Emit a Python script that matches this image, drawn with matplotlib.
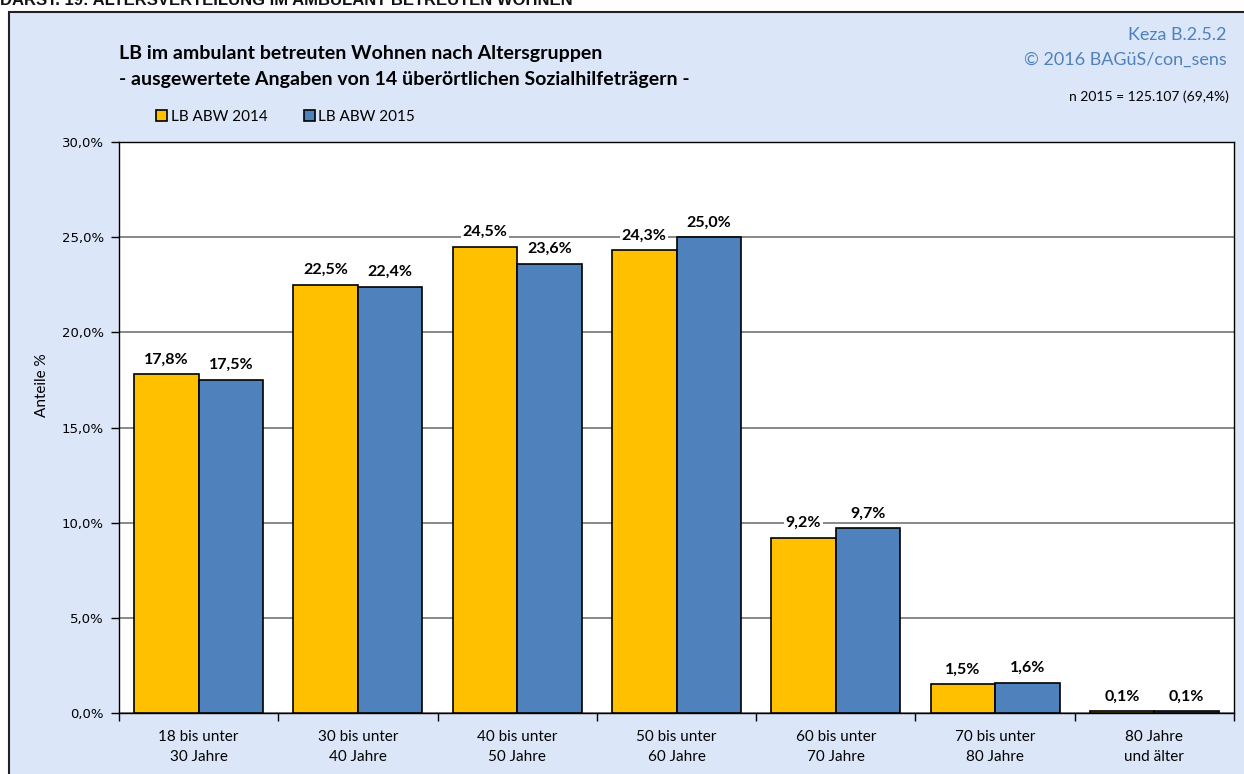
import numpy as np
import matplotlib
matplotlib.use('Agg')
import matplotlib.pyplot as plt
from matplotlib.patches import Rectangle

categories = ['18 bis unter\n30 Jahre', '30 bis unter\n40 Jahre', '40 bis unter\n50 Jahre',
              '50 bis unter\n60 Jahre', '60 bis unter\n70 Jahre', '70 bis unter\n80 Jahre',
              '80 Jahre\nund älter']
abw_2014 = [17.8, 22.5, 24.5, 24.3, 9.2, 1.5, 0.1]
abw_2015 = [17.5, 22.4, 23.6, 25.0, 9.7, 1.6, 0.1]
series_names = ['LB ABW 2014', 'LB ABW 2015']
yticks = [0, 5, 10, 15, 20, 25, 30]

FONT = ['Lato', 'DejaVu Sans']
YELLOW = '#FFC000'
BLUE = '#4F81BD'
PANEL = '#DCE6F9'

def fmt(v):
    return f'{v:.1f}'.replace('.', ',') + '%'

fig = plt.figure(figsize=(12.44, 7.74), dpi=100)
fig.patch.set_facecolor('white')
fig.patches.append(Rectangle((9 / 1244, -0.01), 1.0, 1 - 12 / 774 + 0.01, transform=fig.transFigure,
                             facecolor=PANEL, edgecolor='#222222', linewidth=1.5, zorder=-1))

# clipped header line at the very top
fig.text(0.0, 1 - 5 / 774, 'DARST. 19: ALTERSVERTEILUNG IM AMBULANT BETREUTEN WOHNEN',
         fontsize=12, fontweight='bold', family=['Liberation Sans Narrow', 'Liberation Sans'],
         va='baseline', ha='left', color='#111111')

ax = fig.add_axes([119 / 1244, 1 - 713 / 774, (1234 - 119) / 1244, (713 - 142) / 774])
ax.set_zorder(1)
ax.set_facecolor('white')

x = np.arange(len(categories))
w = 0.405
ax.bar(x - w / 2, abw_2014, w, color=YELLOW, edgecolor='black', linewidth=1.2, zorder=3,
       label=series_names[0])
ax.bar(x + w / 2, abw_2015, w, color=BLUE, edgecolor='black', linewidth=1.2, zorder=3,
       label=series_names[1])

for xi, v in zip(x - w / 2, abw_2014):
    ax.annotate(fmt(v), (xi, v), xytext=(0, 5.5), textcoords='offset points', ha='center',
                va='bottom', fontsize=11.5, fontweight='bold', family=FONT, zorder=4,
                bbox=dict(facecolor='white', edgecolor='none', pad=1))
for xi, v in zip(x + w / 2, abw_2015):
    ax.annotate(fmt(v), (xi, v), xytext=(0, 5.5), textcoords='offset points', ha='center',
                va='bottom', fontsize=11.5, fontweight='bold', family=FONT, zorder=4,
                bbox=dict(facecolor='white', edgecolor='none', pad=1))

ax.set_xlim(-0.5, len(categories) - 0.5)
ax.set_ylim(0, 30)
ax.set_yticks(yticks)
ax.set_yticklabels([fmt(t) for t in yticks], family='DejaVu Sans', fontsize=9.5)
ax.yaxis.grid(True, color='#7f7f7f', linewidth=1.3, zorder=0)
ax.tick_params(axis='y', length=6, width=1, direction='out', pad=5)

ax.set_xticks(np.arange(len(categories) + 1) - 0.5)
ax.set_xticklabels([])
ax.tick_params(axis='x', length=6, width=1, direction='out')
ax.set_xticks(x, minor=True)
ax.set_xticklabels(categories, minor=True, family=FONT, fontsize=11, linespacing=1.55)
ax.tick_params(axis='x', which='minor', length=0, pad=12)

for s in ax.spines.values():
    s.set_color('black')
    s.set_linewidth(1)

ax.set_ylabel('Anteile %', family=FONT, fontsize=11)
ax.yaxis.set_label_coords(-(119 - 49) / 1115, 0.574)

# titles
fig.text(119 / 1244, 1 - 53 / 774, 'LB im ambulant betreuten Wohnen nach Altersgruppen',
         fontsize=14, fontweight='bold', family=FONT, va='center', ha='left')
fig.text(119 / 1244, 1 - 80 / 774, '- ausgewertete Angaben von 14 überörtlichen Sozialhilfeträgern -',
         fontsize=14, fontweight='bold', family=FONT, va='center', ha='left')
fig.text(1227 / 1244, 1 - 35 / 774, 'Keza B.2.5.2', fontsize=13, color='#4F81BD',
         family=FONT, va='center', ha='right')
fig.text(1227 / 1244, 1 - 60 / 774, '© 2016 BAGüS/con_sens', fontsize=13, color='#4F81BD',
         family=FONT, va='center', ha='right')
fig.text(1229 / 1244, 1 - 97 / 774, 'n 2015 = 125.107 (69,4%)', fontsize=10,
         family=FONT, va='center', ha='right')

leg = fig.legend(loc='center left', bbox_to_anchor=(156 / 1244, 1 - 117 / 774), ncol=2,
                 frameon=False, prop={'family': FONT, 'size': 11}, handlelength=0.75,
                 handleheight=0.75, handletextpad=0.2, columnspacing=2.4, borderaxespad=0,
                 borderpad=0)

fig.savefig('out.png', dpi=100, facecolor=fig.get_facecolor())
